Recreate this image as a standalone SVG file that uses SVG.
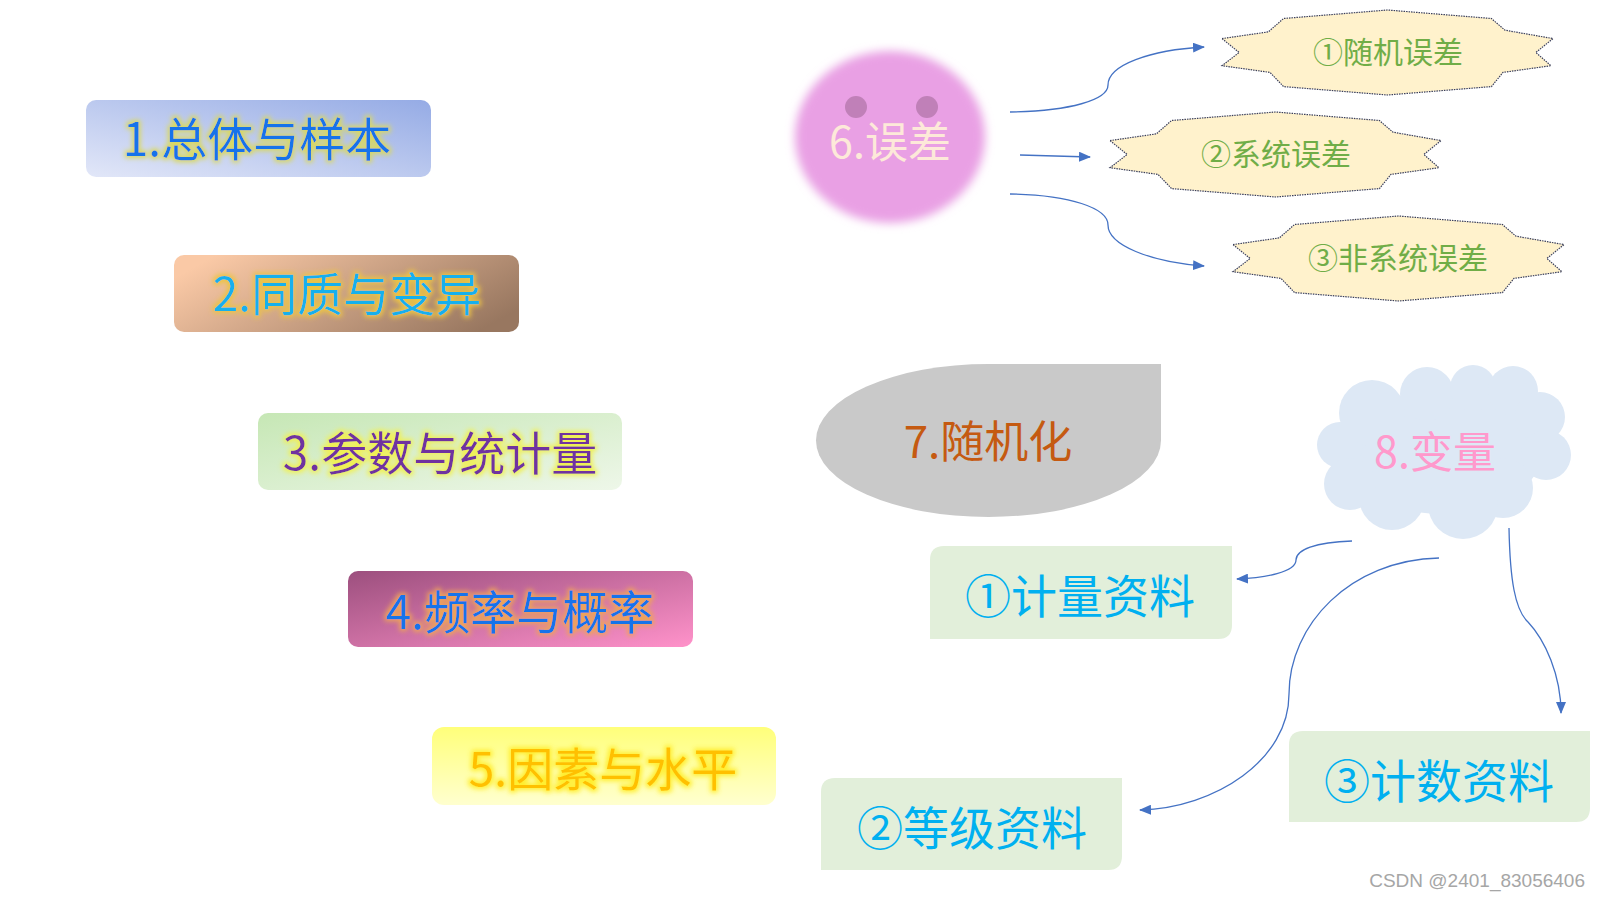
<svg xmlns="http://www.w3.org/2000/svg" xmlns:xlink="http://www.w3.org/1999/xlink" width="1600" height="900" viewBox="0 0 1600 900">
<defs>
<style>
.t{font-family:"Noto Sans CJK SC","Noto Sans",sans-serif;text-anchor:middle;}
.big{font-size:46px;}
.star{fill:#fff2cc;stroke:#3a3f5c;stroke-width:1.2;stroke-dasharray:1.5 1;}
.stxt{font-size:30px;fill:#70ad47;}
.box{fill:#e2efda;}
.btxt{font-size:46px;fill:#00b0f0;}
.conn{fill:none;stroke:#4472c4;stroke-width:1.3;marker-end:url(#arr);}
</style>
<marker id="arr" markerUnits="userSpaceOnUse" markerWidth="12" markerHeight="10" refX="11" refY="5" orient="auto"><path d="M0,0 L12,5 L0,10 Z" fill="#4472c4"/></marker>
<linearGradient id="g1" x1="0" y1="1" x2="1" y2="0"><stop offset="0" stop-color="#e2e7f8"/><stop offset="1" stop-color="#95abe5"/></linearGradient>
<linearGradient id="g2" x1="0" y1="0.3" x2="1" y2="0.7"><stop offset="0" stop-color="#fac9a6"/><stop offset="1" stop-color="#987760"/></linearGradient>
<linearGradient id="g3" x1="0" y1="0" x2="1" y2="1"><stop offset="0" stop-color="#c6e7b5"/><stop offset="1" stop-color="#eef7e9"/></linearGradient>
<linearGradient id="g4" x1="0" y1="0" x2="1" y2="1"><stop offset="0" stop-color="#9c4f7e"/><stop offset="1" stop-color="#ff92ca"/></linearGradient>
<linearGradient id="g5" x1="0" y1="0" x2="0" y2="1"><stop offset="0" stop-color="#ffff7a"/><stop offset="1" stop-color="#ffffcf"/></linearGradient>
<filter id="soft" x="-20%" y="-20%" width="140%" height="140%"><feGaussianBlur stdDeviation="5"/></filter>
<filter id="gl1" x="-10%" y="-40%" width="120%" height="180%"><feMorphology in="SourceAlpha" operator="dilate" radius="2" result="d"/><feGaussianBlur in="d" stdDeviation="2.5" result="b"/><feFlood flood-color="#d9d860"/><feComposite in2="b" operator="in" result="g"/><feMerge><feMergeNode in="g"/><feMergeNode in="SourceGraphic"/></feMerge></filter>
<filter id="gl2" x="-10%" y="-40%" width="120%" height="180%"><feMorphology in="SourceAlpha" operator="dilate" radius="2" result="d"/><feGaussianBlur in="d" stdDeviation="2.5" result="b"/><feFlood flood-color="#ecc443"/><feComposite in2="b" operator="in" result="g"/><feMerge><feMergeNode in="g"/><feMergeNode in="SourceGraphic"/></feMerge></filter>
<filter id="gl3" x="-10%" y="-40%" width="120%" height="180%"><feMorphology in="SourceAlpha" operator="dilate" radius="2" result="d"/><feGaussianBlur in="d" stdDeviation="2.5" result="b"/><feFlood flood-color="#f0f055"/><feComposite in2="b" operator="in" result="g"/><feMerge><feMergeNode in="g"/><feMergeNode in="SourceGraphic"/></feMerge></filter>
<filter id="gl4" x="-10%" y="-40%" width="120%" height="180%"><feMorphology in="SourceAlpha" operator="dilate" radius="2" result="d"/><feGaussianBlur in="d" stdDeviation="2.5" result="b"/><feFlood flood-color="#eda35a"/><feComposite in2="b" operator="in" result="g"/><feMerge><feMergeNode in="g"/><feMergeNode in="SourceGraphic"/></feMerge></filter>
<filter id="gl5" x="-10%" y="-40%" width="120%" height="180%"><feMorphology in="SourceAlpha" operator="dilate" radius="2" result="d"/><feGaussianBlur in="d" stdDeviation="2.5" result="b"/><feFlood flood-color="#ffee30"/><feComposite in2="b" operator="in" result="g"/><feMerge><feMergeNode in="g"/><feMergeNode in="SourceGraphic"/></feMerge></filter>
<path id="star" d="M0,28.6 L46.3,21.9 L61.6,8.5 L165.5,0 L269.4,8.5 L283,20.2 L331,28.6 L313.8,42.5 L329,55.7 L281,62.4 L269.4,76.6 L165.5,85 L61.6,76.6 L48,62.4 L0,55.7 L17.2,42.5 Z"/>
</defs>
<rect width="1600" height="900" fill="#ffffff"/>

<g id="n1">
<rect x="86" y="100" width="345" height="77" rx="10" fill="url(#g1)"/>
<text class="t big" x="257" y="156" fill="#1673ea" filter="url(#gl1)">1.总体与样本</text>
</g>
<g id="n2">
<rect x="174" y="255" width="345" height="77" rx="10" fill="url(#g2)"/>
<text class="t big" x="347" y="311" fill="#12b0ec" filter="url(#gl2)">2.同质与变异</text>
</g>
<g id="n3">
<rect x="258" y="413" width="364" height="77" rx="10" fill="url(#g3)"/>
<text class="t big" x="440" y="470" fill="#7030a0" filter="url(#gl3)">3.参数与统计量</text>
</g>
<g id="n4">
<rect x="348" y="571" width="345" height="76" rx="10" fill="url(#g4)"/>
<text class="t big" x="520" y="629" fill="#1673ea" filter="url(#gl4)">4.频率与概率</text>
</g>
<g id="n5">
<rect x="432" y="727" width="344" height="78" rx="12" fill="url(#g5)"/>
<text class="t big" x="603" y="786" fill="#ffc000" filter="url(#gl5)">5.因素与水平</text>
</g>

<g id="n6">
<ellipse cx="890" cy="137" rx="95" ry="86" fill="#e9a0e4" filter="url(#soft)"/>
<circle cx="856" cy="107" r="11" fill="#c080b8"/>
<circle cx="927" cy="107" r="11" fill="#c080b8"/>
<text class="t" x="890" y="158" font-size="43" fill="#fde9d9">6.误差</text>
</g>

<g id="e1">
<use href="#star" x="1222" y="10" class="star"/>
<text class="t stxt" x="1388" y="63">①随机误差</text>
</g>
<g id="e2">
<use href="#star" x="1110" y="112" class="star"/>
<text class="t stxt" x="1276" y="165">②系统误差</text>
</g>
<g id="e3">
<use href="#star" x="1233" y="216" class="star"/>
<text class="t stxt" x="1398" y="269">③非系统误差</text>
</g>

<g id="n7">
<path d="M988.5,364 L1161,364 L1161,440.5 A172.5,76.5 0 0 1 988.5,517 A172.5,76.5 0 0 1 816,440.5 A172.5,76.5 0 0 1 988.5,364 Z" fill="#c9c9c9"/>
<text class="t" x="988" y="458" font-size="44" fill="#c55a11">7.随机化</text>
</g>

<g id="n8">
<g fill="#dde8f5">
<ellipse cx="1442" cy="452" rx="100" ry="62"/>
<circle cx="1340" cy="445" r="23"/>
<circle cx="1372" cy="413" r="33"/>
<circle cx="1427" cy="394" r="27"/>
<circle cx="1473" cy="388" r="23"/>
<circle cx="1513" cy="391" r="25"/>
<circle cx="1540" cy="417" r="25"/>
<circle cx="1546" cy="455" r="25"/>
<circle cx="1503" cy="488" r="30"/>
<circle cx="1463" cy="504" r="35"/>
<circle cx="1392" cy="497" r="33"/>
<circle cx="1350" cy="484" r="26"/>
</g>
<text class="t" x="1435" y="468" font-size="43" fill="#ff99cc">8.变量</text>
</g>

<g id="d1">
<path class="box" d="M944,546 L1232,546 L1232,625 Q1232,639 1218,639 L930,639 L930,560 Q930,546 944,546 Z"/>
<text class="t btxt" x="1080" y="613">①计量资料</text>
</g>
<g id="d2">
<path class="box" d="M835,778 L1122,778 L1122,856 Q1122,870 1108,870 L821,870 L821,792 Q821,778 835,778 Z"/>
<text class="t btxt" x="972" y="845">②等级资料</text>
</g>
<g id="d3">
<path class="box" d="M1303,731 L1590,731 L1590,808 Q1590,822 1576,822 L1289,822 L1289,745 Q1289,731 1303,731 Z"/>
<text class="t btxt" x="1439" y="798">③计数资料</text>
</g>

<g id="connectors">
<path class="conn" d="M1010,112 C1070,111 1108,100 1108,85 C1108,65 1150,50 1204,47"/>
<path class="conn" d="M1020,155 L1090,157"/>
<path class="conn" d="M1010,194 C1070,195 1108,208 1108,225 C1108,245 1150,262 1204,266"/>
<path class="conn" d="M1352,541 C1315,542 1296,550 1296,560 C1296,572 1265,578 1237,579"/>
<path class="conn" d="M1439,558 C1350,560 1289,625 1289,694 C1289,760 1215,808 1140,810"/>
<path class="conn" d="M1509,528 C1510,580 1515,610 1528,622 C1545,640 1561,675 1561,713"/>
</g>

<text x="1585" y="887" font-family="Liberation Sans, sans-serif" font-size="19" fill="#a6a6a6" text-anchor="end">CSDN @2401_83056406</text>
</svg>
